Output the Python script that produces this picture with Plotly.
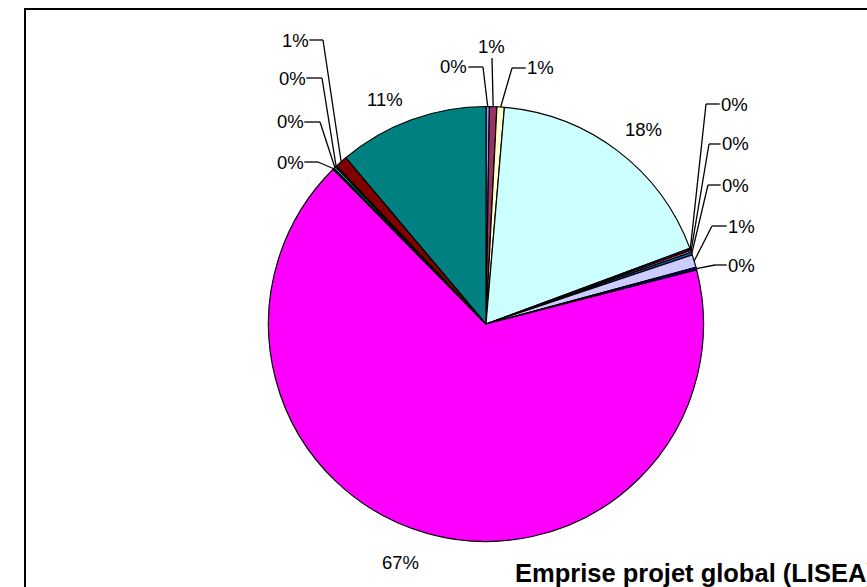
import math
import plotly.graph_objects as go

W, H = 867, 587

# ---------------- data ----------------
categories = ["Poste 1", "Poste 2", "Poste 3", "Poste 4", "Poste 5", "Poste 6", "Poste 7",
              "Poste 8", "Poste 9", "Poste 10", "Poste 11", "Poste 12", "Poste 13",
              "Poste 14", "Poste 15"]
values = [0.25, 0.55, 0.55, 18.0, 0.15, 0.15, 0.2, 0.95, 0.2, 66.6, 0.1, 0.15, 0.1, 0.9, 11.15]
title_text = "Emprise projet global (LISEA)"

# ---------------- styles / layout ----------------
colors = ["#9999FF", "#993366", "#FFFFCC", "#CCFFFF", "#660066", "#FF8080", "#0066CC",
          "#CCCCFF", "#000080", "#FF00FF", "#FFFF00", "#00FFFF", "#800080", "#800000", "#008080"]

CX, CY, R = 486, 324, 217.5          # pie centre / radius in pixels
LABEL_FONT = 18.5

# label placement (pixels): centre x, centre y, leader side, elbow x
label_x = [454, 491, 540, 643, 734, 735, 735, 741, 741, 400, 290, 290, 292, 295, 385]
label_y = [67, 47, 68, 130, 104, 144, 185, 226, 265, 562, 162, 122, 78, 40, 99]
leader_side = ["L", "B", "R", None, "R", "R", "R", "R", "R", None, "L", "L", "L", "L", None]
elbow_x = [483, 492, 512, None, 706, 709, 708, 712, 715, None, 318, 320, 322, 323, None]


def px(x):
    return x / W


def py(y):
    return 1 - y / H


total = sum(values)
label_text = [f"{int(v / total * 100 + 0.5)}%" for v in values]

fig = go.Figure()
fig.add_trace(go.Pie(
    labels=categories,
    values=values,
    sort=False,
    direction="clockwise",
    rotation=0,
    marker=dict(colors=colors, line=dict(color="black", width=1.2)),
    textinfo="none",
    hoverinfo="label+percent",
    showlegend=False,
    domain=dict(x=[px(CX - R), px(CX + R)], y=[py(CY + R), py(CY - R)]),
))

shapes = []
annotations = []

# chart border (runs off the right/bottom edges, as in the reference)
shapes.append(dict(type="rect", xref="paper", yref="paper",
                   x0=px(25), y0=py(9), x1=px(W + 40), y1=py(H + 40),
                   line=dict(color="black", width=2), fillcolor="rgba(0,0,0,0)", layer="above"))

cum = 0.0
for i, v in enumerate(values):
    theta = 2 * math.pi * (cum + v / 2) / total
    cum += v
    ax = CX + R * math.sin(theta)
    ay = CY - R * math.cos(theta)
    lx, ly = label_x[i], label_y[i]
    annotations.append(dict(x=px(lx), y=py(ly), xref="paper", yref="paper",
                            text=label_text[i], showarrow=False,
                            xanchor="center", yanchor="middle",
                            font=dict(family="Arial, Liberation Sans, sans-serif",
                                      size=LABEL_FONT, color="black")))
    side = leader_side[i]
    if side is None:
        continue
    half = 0.72 * LABEL_FONT
    if side == "L":
        sx, sy = lx + half + 1, ly
        ex, ey = elbow_x[i], ly
    elif side == "R":
        sx, sy = lx - half - 1, ly
        ex, ey = elbow_x[i], ly
    else:  # below the label
        sx, sy = elbow_x[i], ly + LABEL_FONT * 0.6
        ex, ey = sx, sy
    seg = [(sx, sy, ex, ey), (ex, ey, ax, ay)]
    for (x0, y0, x1, y1) in seg:
        if abs(x0 - x1) < 0.01 and abs(y0 - y1) < 0.01:
            continue
        shapes.append(dict(type="line", xref="paper", yref="paper",
                           x0=px(x0), y0=py(y0), x1=px(x1), y1=py(y1),
                           line=dict(color="black", width=1.3), layer="above"))

# title (clipped by the right edge as in the reference)
annotations.append(dict(x=px(513), y=py(573), xref="paper", yref="paper",
                        text=f"<b>{title_text}</b>", showarrow=False,
                        xanchor="left", yanchor="middle",
                        font=dict(family="Arial, Liberation Sans, sans-serif",
                                  size=25.5, color="black")))

fig.update_layout(
    width=W, height=H,
    margin=dict(l=0, r=0, t=0, b=0),
    paper_bgcolor="white",
    plot_bgcolor="white",
    shapes=shapes,
    annotations=annotations,
)

fig.write_html("out.html",
               config={"displayModeBar": False},
               post_script="document.body.style.margin='0';document.body.style.overflow='hidden';")
